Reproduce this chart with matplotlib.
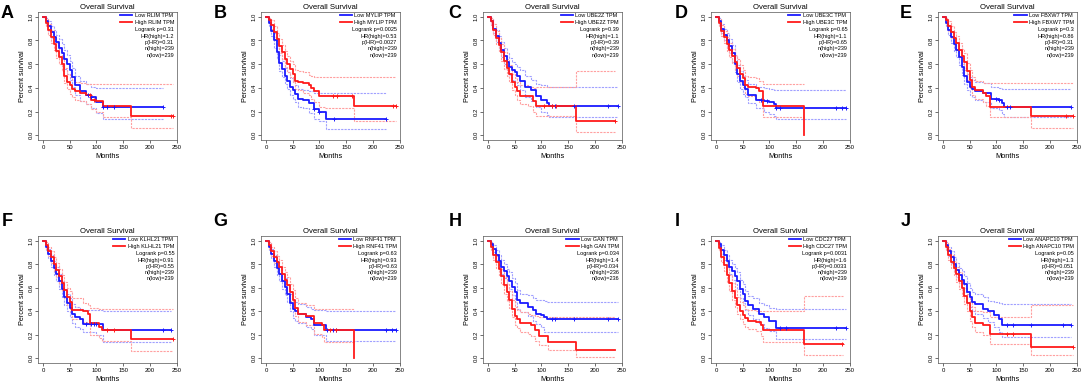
import numpy as np
import matplotlib
matplotlib.use("Agg")
import matplotlib.pyplot as plt
from matplotlib.lines import Line2D

plt.rcParams['font.family'] = ['Liberation Sans', 'DejaVu Sans']

nan = np.nan

# rows: (months, survival, lower CI, upper CI)
A_low = [(0, 1, 1, 1), (5, .96, .93, .99), (10, .92, .88, .96), (15, .87, .82, .92), (20, .83, .77, .89),
         (25, .79, .72, .85), (30, .74, .67, .81), (35, .69, .61, .77), (40, .64, .56, .72), (45, .60, .52, .68),
         (50, .55, .47, .63), (55, .49, .41, .57), (60, .42, .34, .50), (70, .37, .29, .46), (80, .34, .26, .43),
         (90, .32, .23, .41), (100, .28, .19, .40), (112, .24, .14, .40), (225, .24, .14, .40)]
A_high = [(0, 1, 1, 1), (5, .95, .92, .98), (10, .89, .85, .94), (15, .83, .78, .89), (20, .77, .72, .83),
          (25, .71, .65, .78), (30, .66, .60, .73), (35, .60, .54, .67), (40, .50, .44, .57), (45, .45, .39, .52),
          (50, .42, .35, .49), (55, .39, .32, .47), (60, .37, .30, .45), (70, .36, .29, .44), (80, .34, .26, .43),
          (90, .30, .22, .43), (100, .29, .20, .43), (112, .245, .15, .43), (165, .165, .06, .43), (243, .165, .06, .43)]

B_low = [(0, 1, 1, 1), (5, .95, .92, .98), (10, .88, .84, .93), (15, .80, .74, .86), (20, .70, .64, .77),
         (25, .61, .54, .68), (30, .56, .49, .63), (35, .50, .43, .57), (40, .46, .39, .53), (45, .41, .34, .48),
         (50, .38, .31, .45), (55, .35, .28, .42), (60, .31, .24, .39), (70, .30, .23, .38), (80, .27, .19, .37),
         (90, .22, .14, .36), (100, .20, .12, .36), (112, .135, .05, .36), (225, .135, .05, .36)]
B_high = [(0, 1, 1, 1), (5, .97, .95, .99), (10, .93, .90, .97), (15, .87, .83, .92), (20, .81, .76, .86),
          (25, .75, .69, .81), (30, .70, .64, .76), (35, .64, .58, .71), (40, .60, .53, .67), (45, .56, .49, .63),
          (50, .52, .45, .60), (55, .46, .39, .55), (60, .45, .38, .54), (70, .44, .36, .53), (80, .42, .34, .51),
          (85, .40, .31, .50), (90, .37, .28, .49), (100, .33, .24, .49), (110, .33, .23, .49), (165, .245, .12, .49),
          (243, .245, .12, .49)]

C_low = [(0, 1, 1, 1), (5, .96, .93, .99), (10, .90, .86, .94), (15, .84, .79, .89), (20, .78, .72, .84),
         (25, .72, .66, .79), (30, .67, .60, .74), (35, .62, .55, .69), (40, .58, .51, .65), (45, .55, .47, .62),
         (50, .53, .45, .60), (55, .50, .42, .58), (60, .46, .38, .55), (70, .41, .32, .50), (80, .38, .29, .47),
         (90, .33, .24, .43), (100, .30, .20, .42), (110, .27, .17, .41), (115, .245, .15, .41), (243, .245, .15, .41)]
C_high = [(0, 1, 1, 1), (5, .96, .93, .99), (10, .89, .85, .94), (15, .82, .77, .88), (20, .76, .70, .82),
          (25, .70, .63, .77), (30, .63, .56, .70), (35, .57, .50, .64), (40, .52, .45, .59), (45, .45, .38, .52),
          (50, .41, .34, .48), (55, .37, .30, .45), (60, .33, .26, .42), (75, .33, .25, .41), (85, .29, .20, .40),
          (90, .245, .16, .41), (165, .12, .03, .545), (237, .12, .03, .545)]

D_low = [(0, 1, 1, 1), (5, .96, .93, .99), (10, .90, .86, .94), (15, .85, .80, .90), (20, .80, .74, .86),
         (25, .75, .69, .81), (30, .69, .62, .76), (35, .60, .53, .67), (40, .52, .45, .59), (45, .46, .39, .54),
         (50, .42, .35, .50), (55, .39, .32, .47), (60, .34, .27, .43), (75, .30, .23, .41), (90, .29, .20, .40),
         (100, .28, .18, .39), (108, .26, .16, .38), (112, .23, .14, .38), (243, .23, .14, .38)]
D_high = [(0, 1, 1, 1), (5, .95, .92, .98), (10, .88, .84, .93), (15, .83, .78, .88), (20, .77, .71, .83),
          (25, .72, .66, .78), (30, .67, .61, .73), (35, .62, .55, .68), (40, .57, .50, .64), (45, .52, .45, .59),
          (50, .48, .41, .55), (55, .42, .35, .50), (60, .41, .33, .49), (75, .40, .31, .48), (80, .37, .28, .46),
          (88, .245, .15, .43), (160, .245, .15, .43), (165, 0.0, nan, nan)]

E_low = [(0, 1, 1, 1), (5, .95, .92, .98), (10, .89, .85, .93), (15, .83, .78, .88), (20, .77, .71, .83),
         (25, .72, .66, .78), (30, .66, .59, .72), (35, .58, .51, .65), (40, .50, .43, .57), (45, .45, .38, .52),
         (50, .41, .34, .49), (55, .39, .32, .47), (60, .37, .30, .45), (75, .36, .28, .44), (90, .31, .23, .41),
         (105, .30, .21, .40), (110, .27, .18, .39), (115, .24, .15, .39), (240, .24, .15, .39)]
E_high = [(0, 1, 1, 1), (5, .97, .95, .99), (10, .92, .88, .96), (15, .87, .82, .92), (20, .82, .76, .87),
          (25, .78, .72, .84), (30, .72, .66, .78), (35, .67, .60, .73), (40, .62, .55, .69), (45, .54, .47, .61),
          (50, .47, .40, .55), (55, .41, .34, .49), (60, .38, .31, .46), (75, .36, .28, .44), (80, .33, .25, .44),
          (88, .24, .15, .44), (165, .16, .06, .44), (243, .16, .06, .44)]

F_low = [(0, 1, 1, 1), (5, .95, .92, .98), (10, .89, .85, .93), (15, .83, .78, .88), (20, .77, .71, .83),
         (25, .72, .66, .78), (30, .66, .59, .72), (35, .59, .52, .66), (40, .52, .45, .59), (45, .47, .40, .55),
         (50, .43, .35, .51), (55, .38, .30, .46), (60, .35, .27, .44), (70, .33, .25, .42), (75, .29, .22, .41),
         (100, .29, .20, .41), (112, .24, .14, .40), (240, .24, .14, .40)]
F_high = [(0, 1, 1, 1), (5, .96, .93, .99), (10, .91, .87, .95), (15, .86, .81, .91), (20, .80, .74, .86),
          (25, .75, .69, .81), (30, .70, .63, .76), (35, .64, .57, .71), (40, .58, .51, .65), (45, .52, .45, .60),
          (50, .48, .40, .57), (55, .41, .33, .51), (75, .40, .31, .47), (85, .38, .29, .45), (88, .30, .20, .43),
          (105, .27, .17, .42), (110, .24, .15, .42), (165, .16, .06, .42), (243, .16, .06, .42)]

G_low = [(0, 1, 1, 1), (5, .95, .92, .98), (10, .89, .85, .93), (15, .83, .78, .88), (20, .77, .71, .83),
         (25, .72, .66, .78), (30, .66, .59, .72), (35, .61, .54, .68), (40, .55, .48, .62), (45, .47, .40, .55),
         (50, .42, .34, .50), (55, .40, .32, .48), (60, .38, .30, .46), (75, .35, .27, .44), (85, .33, .25, .42),
         (90, .28, .20, .41), (112, .24, .15, .40), (243, .24, .15, .40)]
G_high = [(0, 1, 1, 1), (5, .96, .93, .99), (10, .91, .87, .95), (15, .86, .81, .91), (20, .82, .76, .87),
          (25, .78, .72, .84), (30, .72, .66, .78), (35, .67, .60, .73), (40, .62, .55, .69), (45, .56, .49, .63),
          (50, .50, .42, .58), (55, .43, .36, .51), (60, .38, .31, .47), (75, .36, .28, .45), (90, .30, .21, .42),
          (105, .28, .18, .42), (108, .24, .14, .42), (160, .24, .14, .42), (165, 0.0, nan, nan)]

H_low = [(0, 1, 1, 1), (5, .97, .95, .99), (10, .93, .90, .96), (15, .88, .84, .92), (20, .83, .78, .88),
         (25, .78, .72, .84), (30, .74, .68, .80), (35, .70, .63, .76), (40, .66, .59, .73), (45, .61, .54, .68),
         (50, .56, .48, .64), (55, .50, .42, .58), (60, .47, .39, .55), (75, .44, .36, .54), (85, .41, .32, .51),
         (90, .38, .29, .50), (100, .37, .27, .50), (105, .35, .22, .49), (110, .33, .22, .48), (243, .33, .22, .48)]
H_high = [(0, 1, 1, 1), (5, .95, .92, .98), (10, .88, .84, .93), (15, .82, .77, .87), (20, .76, .70, .82),
          (25, .70, .63, .76), (30, .62, .55, .69), (35, .56, .49, .63), (40, .50, .43, .57), (45, .42, .35, .50),
          (50, .36, .28, .44), (55, .33, .26, .41), (60, .30, .22, .39), (75, .30, .21, .38), (80, .28, .19, .37),
          (88, .24, .15, .36), (95, .19, .11, .35), (112, .14, .07, .35), (165, .07, .01, .35), (237, .07, .01, .35)]

I_low = [(0, 1, 1, 1), (5, .97, .95, .99), (10, .92, .89, .96), (15, .88, .84, .92), (20, .83, .78, .88),
         (25, .78, .72, .84), (30, .74, .67, .80), (35, .70, .63, .77), (40, .66, .59, .73), (45, .59, .51, .67),
         (50, .55, .47, .63), (55, .49, .41, .57), (60, .45, .37, .53), (70, .42, .33, .51), (80, .38, .29, .47),
         (90, .35, .26, .45), (100, .32, .23, .43), (112, .26, .16, .42), (243, .26, .16, .42)]
I_high = [(0, 1, 1, 1), (5, .94, .91, .97), (10, .86, .82, .91), (15, .79, .74, .85), (20, .71, .65, .78),
          (25, .64, .57, .71), (30, .57, .50, .64), (35, .51, .44, .58), (40, .45, .38, .52), (45, .40, .33, .48),
          (50, .37, .29, .45), (55, .34, .27, .42), (60, .32, .25, .41), (75, .31, .23, .40), (85, .28, .19, .40),
          (88, .24, .14, .40), (165, .12, .03, .53), (237, .12, .03, .53)]

J_low = [(0, 1, 1, 1), (5, .96, .93, .99), (10, .91, .87, .95), (15, .86, .81, .91), (20, .80, .74, .86),
         (25, .75, .69, .81), (30, .71, .64, .77), (35, .67, .60, .74), (40, .63, .56, .70), (45, .56, .48, .64),
         (50, .52, .44, .60), (55, .48, .40, .56), (60, .46, .38, .55), (75, .42, .34, .52), (85, .40, .31, .49),
         (95, .37, .27, .48), (105, .33, .22, .47), (110, .28, .18, .46), (240, .28, .18, .46)]
J_high = [(0, 1, 1, 1), (5, .95, .92, .98), (10, .88, .84, .93), (15, .82, .77, .88), (20, .77, .71, .83),
          (25, .72, .65, .78), (30, .66, .59, .73), (35, .60, .53, .67), (40, .53, .46, .60), (45, .47, .40, .55),
          (50, .40, .32, .49), (55, .35, .27, .44), (60, .30, .22, .40), (75, .28, .20, .39), (88, .21, .12, .35),
          (165, .10, .03, .45), (243, .10, .03, .45)]

# censored times (months)
low_cens = {'A': [85, 90, 112, 120, 132, 225], 'B': [90, 100, 127, 225], 'C': [120, 125, 160, 225, 243],
            'D': [85, 95, 112, 120, 225, 235, 243], 'E': [100, 105, 120, 125, 240], 'F': [80, 90, 95, 100, 225, 240],
            'G': [115, 125, 130, 225, 235, 243], 'H': [120, 125, 160, 225, 243], 'I': [120, 130, 225, 243],
            'J': [120, 130, 165, 225, 240]}
high_cens = {'A': [88, 95, 240, 243], 'B': [125, 132, 160, 238, 243], 'C': [105, 120, 128, 237], 'D': [],
             'E': [230, 243], 'F': [120, 132, 243], 'G': [120, 130], 'H': [], 'I': [235], 'J': [120, 130, 243]}

letters = ['A', 'B', 'C', 'D', 'E', 'F', 'G', 'H', 'I', 'J']
genes = ['RLIM', 'MYLIP', 'UBE2Z', 'UBE3C', 'FBXW7', 'KLHL21', 'RNF41', 'GAN', 'CDC27', 'ANAPC10']
logrank_p = ['0.31', '0.0025', '0.39', '0.65', '0.3', '0.55', '0.63', '0.034', '0.0031', '0.05']
hr_high = ['1.2', '0.53', '1.1', '1.1', '0.86', '0.91', '0.93', '1.4', '1.6', '1.3']
p_hr = ['0.31', '0.0027', '0.39', '0.65', '0.31', '0.55', '0.63', '0.034', '0.0033', '0.051']
n_high = [239, 239, 239, 239, 239, 239, 239, 236, 239, 239]
n_low = [239, 239, 239, 239, 239, 239, 239, 236, 239, 239]

data = {'A': (A_low, A_high), 'B': (B_low, B_high), 'C': (C_low, C_high), 'D': (D_low, D_high),
        'E': (E_low, E_high), 'F': (F_low, F_high), 'G': (G_low, G_high), 'H': (H_low, H_high),
        'I': (I_low, I_high), 'J': (J_low, J_high)}

W, H = 1084, 388
fig = plt.figure(figsize=(W / 100, H / 100), dpi=100)

x0_cols = [43, 266, 488, 716, 943]
letter_x = [7, 220, 455, 681, 906, 7, 220, 455, 677, 906]
row_frames = [(12, 140), (236, 363)]
letter_y = [14, 221]
blue, red = '#1a1aff', '#ff1a1a'
blue_ci, red_ci = '#a0a0ff', '#ffa0a0'


def draw_group(ax, rows, cens, col, ci_col):
    arr = np.array(rows, dtype=float)
    t, s, lo, hi = arr[:, 0], arr[:, 1], arr[:, 2], arr[:, 3]
    ax.step(t, lo, where='post', color=ci_col, lw=0.8, ls=(0, (2, 1)), zorder=1)
    ax.step(t, hi, where='post', color=ci_col, lw=0.8, ls=(0, (2, 1)), zorder=1)
    ax.step(t, s, where='post', color=col, lw=1.3, zorder=3)
    if cens:
        idx = np.searchsorted(t, cens, side='right') - 1
        ax.plot(cens, s[idx], ls='none', marker='+', ms=3, mew=0.7, color=col, zorder=4)


for k, L in enumerate(letters):
    row, col = divmod(k, 5)
    top, bot = row_frames[row]
    left = x0_cols[col] - 4.8
    ax = fig.add_axes([left / W, 1 - bot / H, 139 / W, (bot - top) / H])
    low, high = data[L]
    draw_group(ax, low, low_cens[L], blue, blue_ci)
    draw_group(ax, high, high_cens[L], red, red_ci)
    ax.set_xlim(-9, 251)
    ax.set_ylim(-0.04, 1.04)
    ax.set_xticks([0, 50, 100, 150, 200, 250])
    ax.set_yticks([0, 0.2, 0.4, 0.6, 0.8, 1.0])
    ax.set_yticklabels(['0.0', '0.2', '0.4', '0.6', '0.8', '1.0'], rotation=90, va='center')
    ax.tick_params(labelsize=4.3, length=2, width=0.5, pad=1.5, color='#333333')
    for sp in ax.spines.values():
        sp.set_linewidth(0.5)
        sp.set_color('#555555')
    ax.set_xlabel('Months', fontsize=5.3, labelpad=2)
    ax.set_ylabel('Percent survival', fontsize=5.2, labelpad=2)
    ax.set_title('Overall Survival', fontsize=5.6, pad=2)

    handles = [Line2D([], [], color=blue, lw=1.3), Line2D([], [], color=red, lw=1.3)]
    ax.legend(handles, ['Low %s TPM' % genes[k], 'High %s TPM' % genes[k]], loc='upper right',
              bbox_to_anchor=(0.985, 1.0), fontsize=4, frameon=False, handlelength=2.2,
              handletextpad=0.4, labelspacing=0.3, borderpad=0.2, borderaxespad=0.0)
    stats = ['Logrank p=%s' % logrank_p[k], 'HR(high)=%s' % hr_high[k], 'p(HR)=%s' % p_hr[k],
             'n(high)=%d' % n_high[k], 'n(low)=%d' % n_low[k]]
    for j, st in enumerate(stats):
        ax.text(0.978, 0.86 - j * 0.049, st, transform=ax.transAxes, ha='right', va='center', fontsize=4)

    fig.text(letter_x[k] / W, 1 - letter_y[row] / H, L, fontsize=13, fontweight='bold',
             ha='center', va='center')

fig.savefig('out.png', dpi=100)
